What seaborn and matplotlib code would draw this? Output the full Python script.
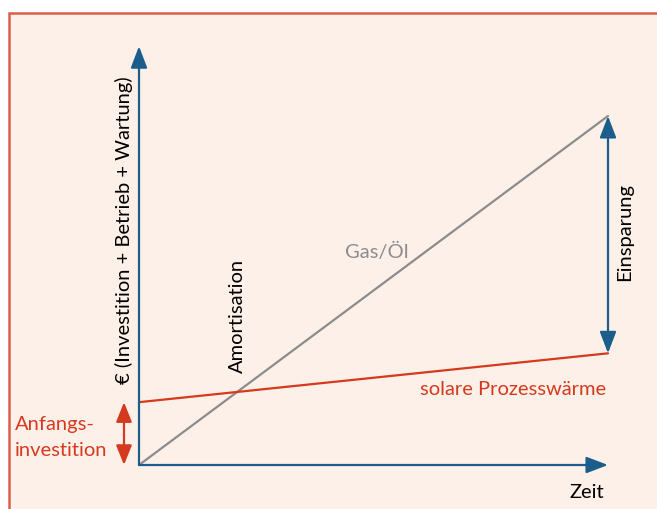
import numpy as np
import pandas as pd
import matplotlib.pyplot as plt
import seaborn as sns
from matplotlib.patches import Rectangle
plt.switch_backend('Agg')

# data (time in years, cost in arbitrary units)
zeit = [0, 10]
gas_oel = [0, 100]
solar = [18, 32]
y_axis_top = 120
labels = ['Gas/Öl', 'solare Prozesswärme']

BLUE = '#1B5E8B'
RED = '#D63A1E'
GRAY = '#8C8C8C'
BG = '#FDF0E8'
BORDER = '#D9604A'

sns.set_theme(style='white')
plt.rcParams['font.family'] = ['Lato', 'DejaVu Sans']

df = pd.DataFrame({
    'zeit': zeit * 2,
    'kosten': gas_oel + solar,
    'serie': [labels[0]] * len(zeit) + [labels[1]] * len(zeit),
})

W, H = 657, 509
fig = plt.figure(figsize=(W / 100, H / 100), dpi=100, facecolor='white')

ax = fig.add_axes([0, 0, 1, 1])
ax.set_facecolor('none')
# pixel mapping: x=0 -> 139px, x=10 -> 608px ; y=0 -> 465px, y=100 -> 116px
sx = (608 - 139) / 10
sy = (465 - 116) / 100
ax.set_xlim(-139 / sx, (W - 139) / sx)
ax.set_ylim(-(H - 465) / sy, 465 / sy)
ax.axis('off')

# frame box (cut off at right and bottom)
ax.add_patch(Rectangle((9 / W, -0.05), 1.1, (H - 13) / H + 0.05,
                       transform=fig.transFigure, facecolor=BG,
                       edgecolor=BORDER, linewidth=1.8, zorder=0, clip_on=False))

sns.lineplot(data=df, x='zeit', y='kosten', hue='serie',
             palette={labels[0]: GRAY, labels[1]: RED},
             linewidth=1.6, legend=False, ax=ax, zorder=3)

# axes arrows
arrow = dict(arrowstyle='-|>,head_length=1.1,head_width=0.42', color=BLUE,
             lw=1.6, shrinkA=0, shrinkB=0)
ax.annotate('', xy=(0, y_axis_top), xytext=(0, 0), arrowprops=arrow, zorder=4)
ax.annotate('', xy=(zeit[-1], 0), xytext=(0, 0), arrowprops=arrow, zorder=4)

# Einsparung
dbl = dict(arrowstyle='<|-|>,head_length=1.1,head_width=0.42', color=BLUE,
           lw=1.6, shrinkA=0, shrinkB=0)
ax.annotate('', xy=(zeit[-1], gas_oel[-1]), xytext=(zeit[-1], solar[-1]),
            arrowprops=dbl, zorder=4)

# Anfangsinvestition
dbl_red = dict(dbl, color=RED, arrowstyle='<|-|>,head_length=1.0,head_width=0.4')
ax.annotate('', xy=(-0.32, solar[0]), xytext=(-0.32, 0),
            arrowprops=dbl_red, zorder=4)

fs = 14.5
ax.text(-0.32, 67.3, '€ (Investition + Betrieb + Wartung)', rotation=90,
        ha='center', va='center', fontsize=fs, color='black')
ax.text(9.55, -8.0, 'Zeit', ha='center', va='center', fontsize=fs, color='black')
ax.text(5.07, 61.0, 'Gas/Öl', ha='center', va='center', fontsize=fs, color=GRAY)
ax.text(7.97, 21.5, 'solare Prozesswärme', ha='center', va='center',
        fontsize=fs, color=RED)
ax.text(2.09, 42.7, 'Amortisation', rotation=90, ha='center', va='center',
        fontsize=fs, color='black')
ax.text(10.36, 66.8, 'Einsparung', rotation=90, ha='center', va='center',
        fontsize=fs, color='black')
ax.text(-2.64, 8.0, 'Anfangs-\ninvestition', ha='left', va='center',
        fontsize=fs, color=RED, linespacing=1.65)

fig.savefig('out.png', dpi=100, facecolor='white')
